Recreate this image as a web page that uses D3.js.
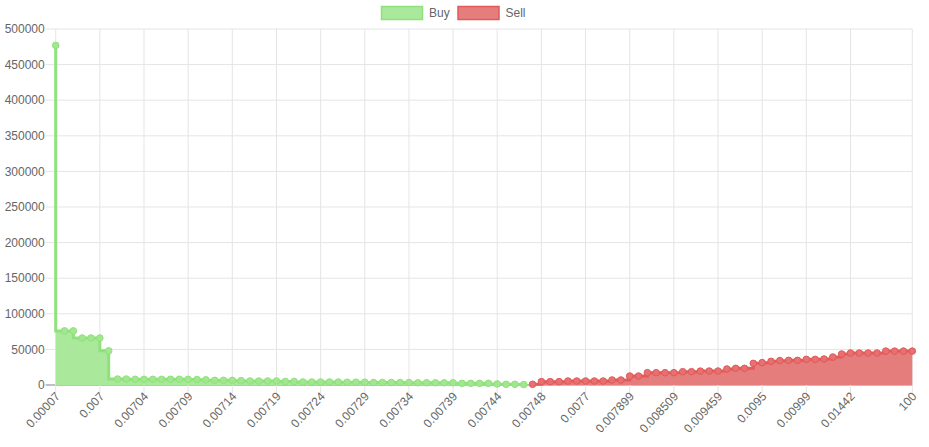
<!DOCTYPE html>
<html>
<head>
<meta charset="utf-8">
<script src="https://cdn.jsdelivr.net/npm/d3@7"></script>
<style>
  body { margin: 0; background: #fff; }
  #depth { width: 929px; height: 447px; }
  text { font-family: "Liberation Sans", Arial, sans-serif; font-size: 12px; fill: #666; }
</style>
</head>
<body>
<div id="depth"></div>
<script>
// price levels (x categories), order book depth per side
const prices = ["0.00007", "0.0001", "0.001", "0.005", "0.0069", "0.007", "0.00701", "0.00702", "0.00703", "0.007035",
    "0.00704", "0.00705", "0.00706", "0.00707", "0.00708", "0.00709", "0.0071", "0.00711", "0.00712", "0.00713",
    "0.00714", "0.00715", "0.00716", "0.00717", "0.00718", "0.00719", "0.0072", "0.00721", "0.00722", "0.00723",
    "0.00724", "0.00725", "0.00726", "0.00727", "0.00728", "0.00729", "0.0073", "0.00731", "0.00732", "0.00733",
    "0.00734", "0.00735", "0.00736", "0.00737", "0.00738", "0.00739", "0.0074", "0.00741", "0.00742", "0.00743",
    "0.00744", "0.00745", "0.00746", "0.007465", "0.00747", "0.00748", "0.00749", "0.0075", "0.00755", "0.0076",
    "0.0077", "0.00775", "0.0078", "0.00785", "0.00789", "0.007899", "0.0079", "0.008", "0.0081", "0.0083",
    "0.008509", "0.0086", "0.0088", "0.009", "0.0092", "0.009459", "0.00946", "0.00948", "0.00949", "0.009499",
    "0.0095", "0.0096", "0.0097", "0.0098", "0.0099", "0.00999", "0.01", "0.011", "0.012", "0.013",
    "0.01442", "0.015", "0.02", "0.03", "0.05", "0.1", "1", "100"];

const shownTicks = ["0.00007", "0.007", "0.00704", "0.00709", "0.00714", "0.00719", "0.00724", "0.00729", "0.00734",
    "0.00739", "0.00744", "0.00748", "0.0077", "0.007899", "0.008509", "0.009459", "0.0095", "0.00999", "0.01442", "100"];

const buyDepth = [477000, 76000, 76000, 66000, 66000, 66000, 48000, 8400, 8400, 8000,
    8000, 8000, 8000, 8000, 8000, 8000, 7700, 7300, 6500, 6500,
    6500, 6100, 5600, 5600, 5600, 5600, 5000, 5000, 4200, 4200,
    4200, 4200, 4200, 3900, 3900, 3900, 3500, 3500, 3500, 3500,
    3500, 3100, 3100, 3100, 3100, 3100, 2300, 2300, 2300, 2300,
    1500, 1000, 1000, 600];

const sellDepth = [1000, 4700, 4700, 4700, 5600, 5600, 5600, 5600, 5600, 7000,
    7000, 12600, 12600, 17300, 17300, 17300, 17300, 18700, 18700, 19500,
    19600, 19600, 22500, 23400, 23400, 30400, 31400, 33200, 34200, 34600,
    34600, 36000, 36000, 36500, 39300, 43500, 44900, 44900, 44900, 44900,
    47600, 47600, 47600, 47600];

const yTicks = [0, 50000, 100000, 150000, 200000, 250000, 300000, 350000, 400000, 450000, 500000];

function drawDepth() {
    let margin = { top: 29, bottom: 62, left: 55.7, right: 16.7 };
    let width = 929 - margin.left - margin.right,
        height = 447 - margin.top - margin.bottom;

    let svg = d3.select('#depth')
        .append('svg')
        .attr('width', 929)
        .attr('height', 447);

    let g = svg.append('g')
        .attr('transform', `translate(${margin.left},${margin.top})`);

    // Scales
    let xscale = d3.scalePoint().domain(prices).range([0, width]);
    let yscale = d3.scaleLinear().domain([0, 500000]).range([height, 0]);

    // grid
    g.append('g').selectAll('line.hgrid')
        .data(yTicks)
        .join('line')
        .attr('x1', -10).attr('x2', width)
        .attr('y1', d => yscale(d)).attr('y2', d => yscale(d))
        .attr('stroke', d => d === 0 ? '#c0c0c0' : '#e5e5e5')
        .attr('stroke-width', d => d === 0 ? 2 : 1);

    g.append('g').selectAll('line.vgrid')
        .data(shownTicks)
        .join('line')
        .attr('x1', d => xscale(d)).attr('x2', d => xscale(d))
        .attr('y1', 0).attr('y2', height + 8)
        .attr('stroke', '#e5e5e5');

    // y labels
    g.append('g').selectAll('text')
        .data(yTicks)
        .join('text')
        .attr('x', -11)
        .attr('y', d => yscale(d))
        .attr('dy', '0.35em')
        .attr('text-anchor', 'end')
        .text(d => d);

    // x labels, rotated
    g.append('g').selectAll('text')
        .data(shownTicks)
        .join('text')
        .attr('text-anchor', 'end')
        .attr('dy', '0.35em')
        .attr('transform', d => `translate(${xscale(d) + 2},${height + 9}) rotate(-47)`)
        .text(d => d);

    let buyData = buyDepth.map((v, i) => ({ p: prices[i], v: v }));
    let sellData = sellDepth.map((v, i) => ({ p: prices[buyDepth.length + i], v: v }));

    let sides = [
        { data: buyData, curve: d3.curveStepBefore, fill: '#aae99c', line: '#8fe27b', dot: '#a2e78f' },
        { data: sellData, curve: d3.curveStepAfter, fill: '#e67d7d', line: '#e25a5a', dot: '#e77070' }
    ];

    sides.forEach(s => {
        let area = d3.area()
            .curve(s.curve)
            .x(d => xscale(d.p))
            .y0(height)
            .y1(d => yscale(d.v));
        let line = d3.line()
            .curve(s.curve)
            .x(d => xscale(d.p))
            .y(d => yscale(d.v));

        g.append('path').datum(s.data)
            .attr('d', area)
            .attr('fill', s.fill);
        g.append('path').datum(s.data)
            .attr('d', line)
            .attr('fill', 'none')
            .attr('stroke', s.line)
            .attr('stroke-width', 3);
        g.append('g').selectAll('circle')
            .data(s.data)
            .join('circle')
            .attr('cx', d => xscale(d.p))
            .attr('cy', d => yscale(d.v))
            .attr('r', 3.3)
            .attr('fill', s.dot)
            .attr('stroke', s.line)
            .attr('stroke-width', 1);
    });

    // legend
    let legend = [
        { name: 'Buy', x: 381, fill: '#aae99c', line: '#8fe27b' },
        { name: 'Sell', x: 457.5, fill: '#e67d7d', line: '#e25a5a' }
    ];
    let lg = svg.append('g').selectAll('g').data(legend).join('g');
    lg.append('rect')
        .attr('x', d => d.x + 0.5).attr('y', 6.5)
        .attr('width', 41).attr('height', 13)
        .attr('fill', d => d.fill)
        .attr('stroke', d => d.line)
        .attr('stroke-width', 1.5);
    lg.append('text')
        .attr('x', d => d.x + 48)
        .attr('y', 13)
        .attr('dy', '0.35em')
        .text(d => d.name);
}

drawDepth();
</script>
</body>
</html>
